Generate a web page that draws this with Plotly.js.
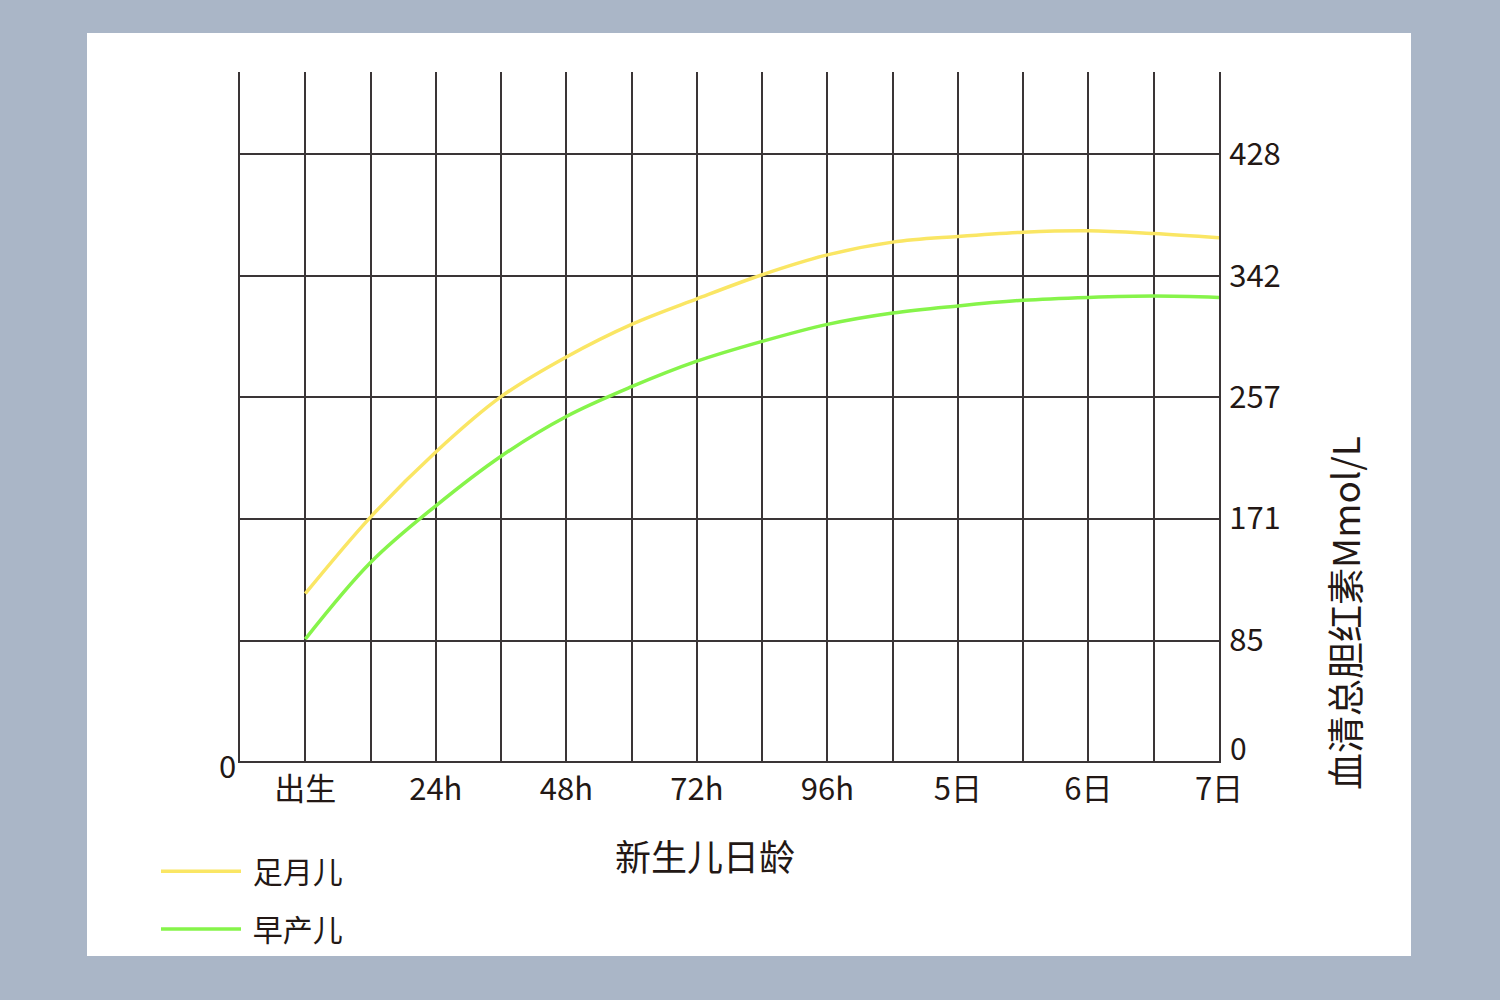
<!DOCTYPE html>
<html>
<head>
<meta charset="utf-8">
<script src="https://cdn.plot.ly/plotly-3.0.1.min.js"></script>
<style>
  html, body { margin: 0; padding: 0; width: 1500px; height: 1000px; background: #aab6c7; overflow: hidden; }
  #chart { position: absolute; left: 87px; top: 33px; width: 1324px; height: 923px; }
</style>
</head>
<body>
<div id="chart"></div>
<script>
// grid column index (each vertical grid line is one step)
const gridIndex = [1, 2, 3, 4, 5, 6, 7, 8, 9, 10, 11, 12, 13, 14, 15];
// 足月儿 (full-term) serum total bilirubin
const fullTerm = [118, 172, 218, 257, 285, 308, 326, 343, 357, 366, 370, 373, 374, 372, 369];
// 早产儿 (premature)
const premature = [86, 140, 180, 215, 243, 264, 282, 296, 308, 316, 321, 325, 327, 328, 327];

const xTickPositions = [1, 3, 5, 7, 9, 11, 13, 15];
const xTickLabels = ['出生', '24h', '48h', '72h', '96h', '5日', '6日', '7日'];
const yTickValues = [85, 171, 257, 342, 428];
const seriesNames = ['足月儿', '早产儿'];

const FONT = '"Noto Sans CJK SC", "Noto Sans", sans-serif';
const TXT = '#231815';
const GRID = '#3a3536';

// full grid ticks 0..15, labels only at named positions
const allX = [];
const allXText = [];
for (let i = 0; i <= 15; i++) {
  allX.push(i);
  const k = xTickPositions.indexOf(i);
  allXText.push(k >= 0 ? xTickLabels[k] : '');
}

const traces = [
  {
    x: gridIndex, y: fullTerm, name: '\u00a0' + seriesNames[0], type: 'scatter', mode: 'lines',
    line: { color: '#fae664', width: 3.5, shape: 'spline', smoothing: 1 },
    legend: 'legend'
  },
  {
    x: gridIndex, y: premature, name: '\u00a0' + seriesNames[1], type: 'scatter', mode: 'lines',
    line: { color: '#86f44a', width: 3.5, shape: 'spline', smoothing: 1 },
    legend: 'legend2'
  }
];

const legendCommon = {
  font: { family: FONT, size: 30, color: TXT },
  bgcolor: 'rgba(0,0,0,0)',
  borderwidth: 0,
  itemwidth: 80,
  xanchor: 'left',
  yanchor: 'middle'
};

const layout = {
  width: 1324,
  height: 923,
  margin: { l: 153, r: 192, t: 39, b: 195, autoexpand: false },
  paper_bgcolor: '#ffffff',
  plot_bgcolor: '#ffffff',
  font: { family: FONT, size: 30, color: TXT },
  showlegend: true,
  legend: Object.assign({}, legendCommon, { x: -0.0858, y: -0.160 }),
  legend2: Object.assign({}, legendCommon, { x: -0.0858, y: -0.244 }),
  xaxis: {
    range: [0, 15],
    tickvals: allX,
    ticktext: allXText,
    ticks: '',
    showgrid: true,
    gridcolor: GRID,
    gridwidth: 2,
    zeroline: false,
    showline: true,
    linecolor: GRID,
    linewidth: 2,
    tickfont: { family: FONT, size: 31, color: TXT },
    fixedrange: true
  },
  yaxis: {
    range: [0, 486],
    side: 'right',
    tickvals: [0].concat(yTickValues),
    ticktext: [''].concat(yTickValues.map(String)),
    ticks: '',
    showgrid: true,
    gridcolor: GRID,
    gridwidth: 2,
    zeroline: false,
    showline: true,
    mirror: true,
    linecolor: GRID,
    linewidth: 2,
    tickfont: { family: FONT, size: 31, color: TXT },
    ticklabelstandoff: 2,
    fixedrange: true
  },
  annotations: [
    {
      text: '新生儿日龄', xref: 'paper', yref: 'paper', x: 0.475, y: -0.1364,
      xanchor: 'center', yanchor: 'middle', showarrow: false,
      font: { family: FONT, size: 36, color: TXT }
    },
    {
      text: '血清总胆红素Mmol/L', xref: 'paper', yref: 'paper', x: 1.1277, y: 0.215,
      xanchor: 'center', yanchor: 'middle', showarrow: false, textangle: -90,
      font: { family: FONT, size: 37, color: TXT }
    },
    {
      text: '0', xref: 'paper', yref: 'y', x: 0, y: 0,
      xanchor: 'right', yanchor: 'middle', xshift: -2, yshift: -3, showarrow: false,
      font: { family: FONT, size: 31, color: TXT }
    },
    {
      text: '0', xref: 'paper', yref: 'y', x: 1, y: 0,
      xanchor: 'left', yanchor: 'middle', xshift: 9, yshift: 14, showarrow: false,
      font: { family: FONT, size: 30, color: TXT }
    }
  ]
};

Plotly.newPlot('chart', traces, layout, { displayModeBar: false, staticPlot: true });
</script>
</body>
</html>
